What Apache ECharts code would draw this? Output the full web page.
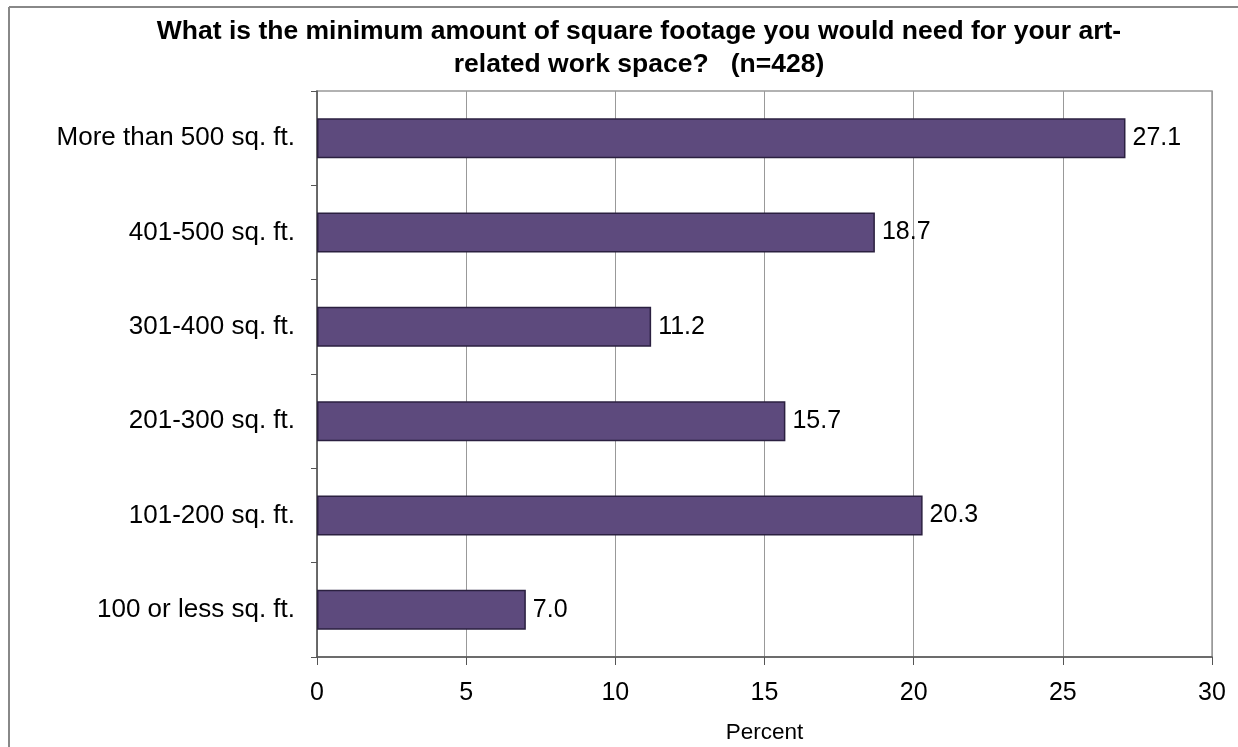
<!DOCTYPE html>
<html><head><meta charset="utf-8">
<script src="https://cdn.jsdelivr.net/npm/echarts@6/dist/echarts.min.js"></script>
<style>html,body{margin:0;padding:0;background:#fff}#c{width:1238px;height:747px}</style>
</head><body><div id="c"></div>
<script>
const categories = ["100 or less sq. ft.", "101-200 sq. ft.", "201-300 sq. ft.", "301-400 sq. ft.", "401-500 sq. ft.", "More than 500 sq. ft."];
const values = [7.0, 20.3, 15.7, 11.2, 18.7, 27.1];
const xTicks = [0, 5, 10, 15, 20, 25, 30];
const titleText = "What is the minimum amount of square footage you would need for your art-\nrelated work space?   (n=428)";
const xName = "Percent";

const chart = echarts.init(document.getElementById('c'), null, {renderer: 'canvas'});
const F = '"Liberation Sans", Arial, sans-serif';
chart.setOption({
  animation: false,
  backgroundColor: '#fff',
  title: {
    text: titleText, left: 634, textAlign: 'center', top: 10,
    textStyle: {fontFamily: F, fontWeight: 'bold', fontSize: 26.5, lineHeight: 33, color: '#000'}
  },
  graphic: [
    {type: 'line', shape: {x1: 9, y1: 7, x2: 9, y2: 747}, style: {stroke: '#888', lineWidth: 2}},
    {type: 'line', shape: {x1: 9, y1: 7, x2: 1238, y2: 7}, style: {stroke: '#888', lineWidth: 2}},
    {type: 'rect', shape: {x: 317, y: 91, width: 895, height: 566}, style: {fill: 'none', stroke: '#999', lineWidth: 1.5}, z: 0}
  ],
  grid: {left: 317, top: 91, width: 895, height: 566, containLabel: false, outerBoundsMode: 'none'},
  xAxis: {
    type: 'value', min: xTicks[0], max: xTicks[xTicks.length - 1], interval: 5,
    name: xName, nameLocation: 'middle', nameGap: 64,
    nameTextStyle: {fontFamily: F, fontSize: 22.5, color: '#000'},
    axisLine: {show: true, lineStyle: {color: '#555', width: 1.5}},
    axisTick: {show: true, length: 8, inside: false, lineStyle: {color: '#555'}},
    axisLabel: {fontFamily: F, fontSize: 25, color: '#000', margin: 24},
    splitLine: {show: true, lineStyle: {color: '#999', width: 1}}
  },
  yAxis: {
    type: 'category', data: categories,
    axisLine: {show: true, lineStyle: {color: '#555', width: 1.5}},
    axisTick: {show: true, length: 6, lineStyle: {color: '#555'}},
    axisLabel: {fontFamily: F, fontSize: 26, color: '#000', margin: 22},
    splitLine: {show: false}
  },
  series: [{
    type: 'bar', data: values, barWidth: 40,
    itemStyle: {color: '#5D4A7D', borderColor: '#2B2040', borderWidth: 1.5},
    label: {show: true, position: 'right', distance: 7, formatter: p => p.value.toFixed(1),
      fontFamily: F, fontSize: 25, color: '#000'}
  }]
});
</script></body></html>
